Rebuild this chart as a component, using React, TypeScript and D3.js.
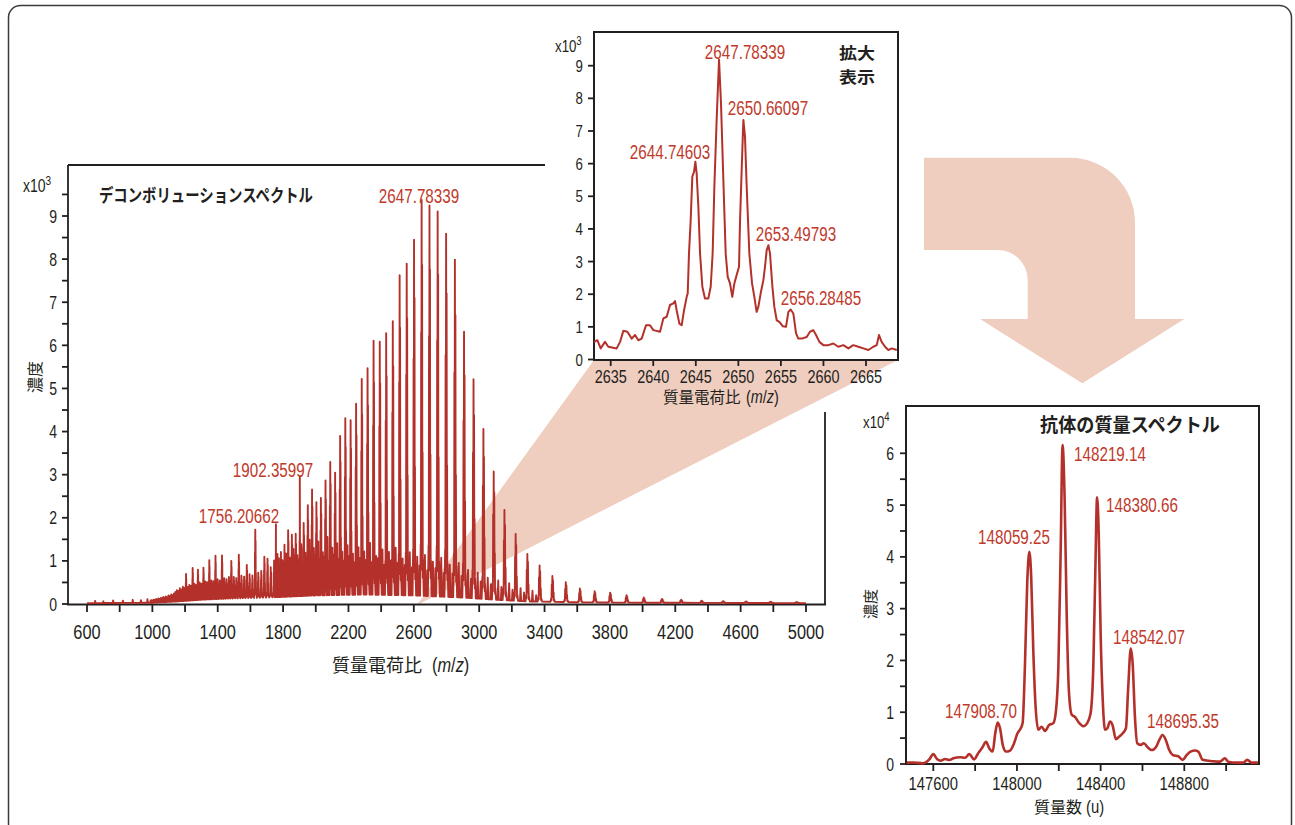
import React, { useEffect } from 'react';
import * as d3 from 'd3';

// ---------- fonts / colours ----------
const NUM = "'Liberation Sans',Arial,sans-serif";
const SX = 0.78; // horizontal squeeze to imitate a condensed face
const CJK = "'Noto Sans CJK JP','Noto Sans',sans-serif";
const RED = '#b3312a';
const LRED = '#c0392b';
const INK = '#231f20';
const PINK = '#efcdbf';

// ---------- antibody (deconvoluted) spectrum: labelled glycoform peaks ----------
const glycoMass = [147908.70, 148059.25, 148219.14, 148380.66, 148542.07, 148695.35];
const glycoHeight = [0.80, 4.10, 6.16, 5.15, 2.23, 0.56]; // x10^4
const glycoLabels = ['147908.70', '148059.25', '148219.14', '148380.66', '148542.07', '148695.35'];

// deconvoluted trace (mass u, intensity x10^4)
const brMass = [147473, 147501, 147549, 147581, 147600, 147619, 147635, 147656, 147677, 147696,
  147728, 147752, 147772, 147795, 147815, 147836, 147852, 147868, 147884, 147896,
  147908, 147919, 147932, 147948, 147967, 147986, 148002, 148018, 148027, 148038,
  148049, 148059, 148068, 148078, 148089, 148102, 148118, 148134, 148153, 148174,
  148186, 148198, 148209, 148218, 148228, 148238, 148249, 148262, 148277, 148298,
  148317, 148336, 148352, 148365, 148375, 148383, 148391, 148400, 148410, 148421,
  148432, 148445, 148457, 148473, 148489, 148505, 148521, 148532, 148544, 148553,
  148564, 148575, 148591, 148607, 148623, 148644, 148665, 148680, 148696, 148712,
  148728, 148747, 148771, 148792, 148811, 148830, 148851, 148867, 148888, 148915,
  148947, 148970, 148994, 149010, 149050, 149082, 149101, 149122, 149152];
const brIntensity = [0.026, 0.03, 0.013, 0.09, 0.19, 0.09, 0.064, 0.097, 0.077, 0.11,
  0.13, 0.12, 0.19, 0.09, 0.21, 0.33, 0.43, 0.30, 0.24, 0.59,
  0.80, 0.69, 0.37, 0.24, 0.26, 0.40, 0.59, 0.69, 0.79, 1.88,
  3.49, 4.10, 3.62, 2.20, 1.11, 0.66, 0.72, 0.64, 0.75, 0.79,
  1.01, 1.88, 4.13, 6.16, 5.10, 2.84, 1.36, 0.95, 0.91, 0.79,
  0.73, 0.79, 0.98, 1.88, 3.81, 5.15, 4.45, 2.52, 1.24, 0.66,
  0.69, 0.82, 0.75, 0.48, 0.53, 0.59, 0.69, 1.49, 2.23, 1.95,
  0.91, 0.40, 0.37, 0.40, 0.33, 0.27, 0.33, 0.46, 0.56, 0.46,
  0.27, 0.17, 0.15, 0.08, 0.17, 0.24, 0.26, 0.24, 0.08, 0.064,
  0.05, 0.045, 0.11, 0.045, 0.026, 0.026, 0.08, 0.026, 0.026];

// ---------- zoomed raw spectrum (m/z, intensity x10^3) ----------
const insetMz = [2633.04, 2633.43, 2633.82, 2634.33, 2634.72, 2635.70, 2636.10, 2636.49, 2636.96, 2637.47,
  2637.86, 2638.25, 2638.64, 2639.15, 2639.62, 2640.01, 2640.80, 2641.19, 2641.58, 2641.97,
  2642.36, 2642.56, 2642.75, 2643.07, 2643.34, 2643.62, 2643.93, 2644.05, 2644.20, 2644.40,
  2644.59, 2644.79, 2644.95, 2645.10, 2645.30, 2645.50, 2645.77, 2646.08, 2646.47, 2646.75,
  2646.98, 2647.18, 2647.45, 2647.73, 2647.96, 2648.24, 2648.51, 2648.75, 2649.02, 2649.29,
  2649.53, 2649.80, 2650.08, 2650.20, 2650.39, 2650.59, 2650.78, 2650.98, 2651.29, 2651.61,
  2651.88, 2652.15, 2652.35, 2652.62, 2652.94, 2653.13, 2653.33, 2653.53, 2653.72, 2654.00,
  2654.23, 2654.51, 2654.82, 2655.21, 2655.60, 2655.88, 2656.15, 2656.46, 2656.78, 2657.05,
  2657.44, 2658.03, 2658.42, 2658.81, 2659.13, 2659.52, 2659.99, 2660.58, 2661.16, 2661.75,
  2662.34, 2662.93, 2663.51, 2664.10, 2664.69, 2665.28, 2665.86, 2666.26, 2666.53, 2666.84,
  2667.24, 2667.63, 2668.02, 2668.61];
const insetIntensity = [0.54, 0.59, 0.34, 0.54, 0.39, 0.34, 0.54, 0.88, 0.85, 0.64,
  0.75, 0.59, 0.64, 1.05, 1.05, 0.90, 0.85, 1.26, 1.31, 1.67,
  1.72, 1.79, 1.51, 1.10, 1.05, 1.51, 1.92, 2.02, 3.25, 4.27,
  5.60, 5.75, 6.06, 5.70, 4.68, 3.25, 2.23, 1.87, 1.87, 2.23,
  3.25, 5.29, 7.34, 9.18, 7.85, 5.50, 3.25, 2.53, 2.33, 1.92,
  2.33, 2.59, 2.84, 4.27, 5.81, 7.34, 6.83, 5.29, 3.25, 2.33,
  1.92, 1.46, 1.61, 2.02, 2.43, 2.84, 3.35, 3.50, 3.25, 2.23,
  1.61, 1.20, 1.15, 1.02, 1.00, 1.46, 1.53, 1.41, 0.80, 0.64,
  0.64, 0.69, 0.85, 0.90, 0.75, 0.54, 0.44, 0.44, 0.49, 0.39,
  0.44, 0.34, 0.44, 0.39, 0.34, 0.29, 0.39, 0.44, 0.75, 0.54,
  0.39, 0.29, 0.34, 0.29];
const insetLabels = ['2647.78339', '2650.66097', '2644.74603', '2653.49793', '2656.28485'];

// ---------- full raw spectrum: charge-state envelope ----------
const Z_MAX = 150; // charge states 150 ... 30
// height of the 148219 glycoform peak for each charge state (x10^3)
const chargeHeight = [
  0.05, 0.06, 0.05, 0.07, 0.06, 0.08, 0.07, 0.09, 0.08, 0.10, // z150-141
  0.09, 0.12, 0.10, 0.13, 0.11, 0.15, 0.13, 0.17, 0.15, 0.19, // z140-131
  0.22, 0.26, 0.24, 0.30, 0.27, 0.33, 0.30, 0.62, 0.32, 0.36, // z130-121
  0.34, 0.75, 0.38, 0.35, 0.70, 0.40, 0.37, 0.74, 0.42, 0.40, // z120-111
  0.91, 0.44, 0.42, 1.01, 0.46, 0.43, 1.01, 0.48, 0.45, 0.50, // z110-101
  0.87, 0.50, 0.47, 1.01, 0.52, 0.50, 0.77, 0.55, 0.52, 1.58, // z100-91
  0.58, 0.62, 0.95, 0.90, 0.70, 0.85, 1.00, 1.04, 1.21, 1.54, // z90-81
  1.43, 1.45, 1.30, 1.69, 2.10, 2.46, 2.16, 2.26, 2.66, 3.09, // z80-71
  2.84, 3.69, 4.10, 4.05, 4.43, 5.00, 5.25, 5.89, 5.87, 6.07, // z70-61
  6.35, 7.42, 7.69, 8.25, 9.18, 9.06, 8.93, 8.42, 7.83, 6.17, // z60-51
  5.08, 3.94, 2.97, 2.09, 1.55, 1.10, 0.84, 0.60, 0.46, 0.32, // z50-41
  0.26, 0.23, 0.17, 0.12, 0.09, 0.07, 0.05, 0.04, 0.035, 0.03, 0.025, // z40-30
];
// minor peaks between charge states (z = 85 ... 45)
const MINOR_Z_MAX = 85;
const minorA = [0.80, 0.90, 0.85, 1.00, 0.90, 1.10, 0.95, 1.20, 1.00, 1.30,
  1.10, 1.25, 1.00, 1.35, 1.10, 1.20, 1.00, 1.15, 0.95, 1.10,
  1.00, 1.20, 0.90, 1.05, 1.00, 1.10, 0.85, 1.00, 0.90, 0.95,
  0.80, 0.90, 0.75, 0.80, 0.65, 0.60, 0.50, 0.45, 0.40, 0.30, 0.25];
const minorB = [0.60, 0.70, 0.75, 0.65, 0.80, 0.70, 0.85, 0.75, 0.90, 0.80,
  0.95, 0.85, 0.90, 0.80, 0.95, 0.85, 0.80, 0.90, 0.75, 0.85,
  0.80, 0.75, 0.85, 0.70, 0.80, 0.75, 0.70, 0.65, 0.70, 0.60,
  0.65, 0.55, 0.55, 0.50, 0.45, 0.40, 0.35, 0.30, 0.25, 0.20, 0.15];
// baseline (valley floor) of the raw spectrum
const baseMz = [600, 1000, 1150, 1300, 1500, 1700, 2000, 2300, 2600, 2900, 3100, 3300, 3600, 4000, 5000];
const baseLevel = [0.02, 0.03, 0.06, 0.10, 0.13, 0.15, 0.20, 0.22, 0.20, 0.15, 0.10, 0.06, 0.04, 0.03, 0.02];
// labelled spikes and small low-m/z bumps
const spikeMz = [1756.20662, 1902.35997, 650, 700, 760, 820, 880, 930, 970];
const spikeHeight = [1.69, 2.78, 0.05, 0.04, 0.06, 0.05, 0.07, 0.06, 0.08];
const mainLabels = ['2647.78339', '1902.35997', '1756.20662'];

// ---------- axis ticks ----------
const mainXTicks = d3.range(600, 5001, 200);
const mainXLabels = d3.range(600, 5001, 400);
const mainYTicks = d3.range(0, 9.51, 0.5);
const mainYLabels = d3.range(0, 10, 1);
const insetXTicks = d3.range(2635, 2666, 5);
const insetYTicks = d3.range(0, 10, 1);
const brXTicks = d3.range(147600, 149001, 200);
const brXLabels = [147600, 148000, 148400, 148800];
const brYTicks = d3.range(0, 6.01, 0.5);
const brYLabels = d3.range(0, 7, 1);

// ---------- layout (pixel positions of annotations) ----------
const mainLabelPos = [{ x: 419, y: 203 }, { x: 273, y: 477 }, { x: 239, y: 523 }];
const insetLabelPos = [{ x: 745, y: 59 }, { x: 768, y: 115 }, { x: 670, y: 159 }, { x: 796, y: 241 }, { x: 821, y: 305 }];
const brLabelPos = [{ x: 981, y: 718 }, { x: 1014, y: 544 }, { x: 1110, y: 461 }, { x: 1142, y: 512 }, { x: 1149, y: 644 }, { x: 1183, y: 728 }];

// ---------- scales ----------
const mx = d3.scaleLinear().domain([600, 5000]).range([87, 806]);
const my = d3.scaleLinear().domain([0, 9]).range([604, 216]);
const ix = d3.scaleLinear().domain([2635, 2665]).range([610.7, 866]);
const iy = d3.scaleLinear().domain([0, 9]).range([359.5, 65.7]);
const bx = d3.scaleLinear().domain([147600, 148800]).range([933.3, 1184.3]);
const by = d3.scaleLinear().domain([0, 6]).range([764, 453.3]);

const PROTON = 1.00728;
const M0 = glycoMass[2];
const mzOf = (M: number, z: number) => (M + z * PROTON) / z;

function buildMainPath(): string {
  const base = d3.scaleLinear().domain(baseMz).range(baseLevel).clamp(true);
  const rel = glycoHeight.map((h) => h / glycoHeight[2]);
  const pts: [number, number][] = [[600, base(600)], [5000, base(5000)]];
  const addPeak = (m: number, h: number, w: number) => {
    pts.push([m - w, base(m - w)], [m, base(m) + h], [m + w, base(m + w)]);
  };
  chargeHeight.forEach((H, i) => {
    const z = Z_MAX - i;
    const gap = mzOf(M0, z - 1) - mzOf(M0, z);
    const w = Math.min(4.5, gap * 0.3);
    const tops = glycoMass.map((M, g) => [mzOf(M, z), H * rel[g]] as [number, number]);
    pts.push([tops[0][0] - w, base(tops[0][0] - w)]);
    tops.forEach(([m, h], g) => {
      pts.push([m, base(m) + h]);
      if (g < tops.length - 1) {
        const m2 = (m + tops[g + 1][0]) / 2;
        pts.push([m2, base(m2) + 0.5 * Math.min(h, tops[g + 1][1])]);
      }
    });
    const last = tops[tops.length - 1][0];
    pts.push([last + w, base(last + w)]);
  });
  minorA.forEach((hA, j) => {
    const z = MINOR_Z_MAX - j;
    const m0 = mzOf(M0, z);
    const gap = mzOf(M0, z - 1) - m0;
    addPeak(m0 + 0.42 * gap, hA, 3.5);
    addPeak(m0 + 0.72 * gap, minorB[j], 3.5);
  });
  spikeMz.forEach((m, k) => addPeak(m, spikeHeight[k], 2.5));
  const clean = pts.filter(([m]) => m >= 600 && m <= 5000).sort((a, b) => a[0] - b[0]);
  return d3.line<[number, number]>().x((d) => mx(d[0])).y((d) => my(d[1]))(clean) || '';
}

const insetPath = d3.line<number>().x((_, i) => ix(insetMz[i])).y((d) => iy(d))(insetIntensity) || '';
const brPath = d3.line<number>().curve(d3.curveMonotoneX).x((_, i) => bx(brMass[i])).y((d) => by(d))(brIntensity) || '';

// condensed-looking number text
const NText = ({ x, y, size, anchor = 'start', fill = INK, children }: any) => (
  <text transform={`translate(${x},${y}) scale(${SX},1)`} textAnchor={anchor} fontFamily={NUM} fontSize={size} fill={fill}>
    {children}
  </text>
);

const Exp = ({ x, y, p, size }: { x: number; y: number; p: string; size: number }) => (
  <NText x={x} y={y} size={size}>
    x10<tspan dy={-7} fontSize={size * 0.72}>{p}</tspan>
  </NText>
);

export default function App() {
  useEffect(() => {
    document.body.style.margin = '0';
    document.body.style.overflow = 'hidden';
  }, []);
  const mainPath = buildMainPath();
  return (
    <svg width={1295} height={825} style={{ position: 'absolute', left: 0, top: 0, background: '#fff' }}>
      {/* outer frame */}
      <rect x={8.5} y={5.5} width={1283} height={830} rx={12} fill="#fff" stroke="#3b3b3b" strokeWidth={1.5} />

      {/* big bent arrow */}
      <path d="M924,157.7 H1070 A65,65 0 0 1 1135,222.7 V319 H1184.3 L1082.3,383.3 L980,319 H1027.7 V280 A30,30 0 0 0 997.7,250 H924 Z" fill={PINK} />

      {/* zoom wedge */}
      <polygon points="594,360 898,360 417,605" fill={PINK} />

      {/* ---------- main chart ---------- */}
      <g stroke={INK} strokeWidth={1.8} fill="none">
        <line x1={68} y1={165} x2={545} y2={165} />
        <line x1={68} y1={165} x2={68} y2={605} />
        <line x1={67} y1={604.5} x2={826} y2={604.5} />
        <line x1={825} y1={412} x2={825} y2={605} />
        {mainYTicks.map((v) => <line key={'my' + v} x1={62} x2={68} y1={my(v)} y2={my(v)} />)}
        {mainXTicks.map((v) => <line key={'mx' + v} x1={mx(v)} x2={mx(v)} y1={604} y2={612} />)}
      </g>
      {mainYLabels.map((v) => (
        <NText key={'myl' + v} x={57} y={my(v) + 6.5} size={18} anchor="end">{v}</NText>
      ))}
      {mainXLabels.map((v) => (
        <NText key={'mxl' + v} x={mx(v)} y={639} size={21} anchor="middle">{v}</NText>
      ))}
      <Exp x={23} y={192} p="3" size={18} />
      <text transform="translate(41,377) rotate(-90)" textAnchor="middle" fontFamily={CJK} fontSize={16} fill={INK}>濃度</text>
      <text x={332} y={672} fontFamily={CJK} fontSize={18} fill={INK}>質量電荷比</text>
      <NText x={432} y={672} size={21}>(<tspan fontStyle="italic">m</tspan>/<tspan fontStyle="italic">z</tspan>)</NText>
      <text x={99} y={202} fontFamily={CJK} fontWeight="bold" fontSize={18} fill={INK} textLength={214} lengthAdjust="spacingAndGlyphs">デコンボリューションスペクトル</text>
      <path d={mainPath} fill="none" stroke={RED} strokeWidth={1.9} strokeLinejoin="round" />
      {mainLabels.map((t, i) => (
        <NText key={t} x={mainLabelPos[i].x} y={mainLabelPos[i].y} size={19.5} anchor="middle" fill={LRED}>{t}</NText>
      ))}

      {/* ---------- inset (zoom) ---------- */}
      <rect x={594} y={32} width={304} height={328} fill="#fff" stroke={INK} strokeWidth={2} />
      <g stroke={INK} strokeWidth={1.8}>
        {insetYTicks.map((v) => <line key={'iy' + v} x1={588} x2={594} y1={iy(v)} y2={iy(v)} />)}
        {insetXTicks.map((v) => <line key={'ix' + v} x1={ix(v)} x2={ix(v)} y1={360} y2={366} />)}
      </g>
      {insetYTicks.map((v) => (
        <NText key={'iyl' + v} x={583} y={iy(v) + 6} size={17} anchor="end">{v}</NText>
      ))}
      {insetXTicks.map((v) => (
        <NText key={'ixl' + v} x={ix(v)} y={383} size={18.5} anchor="middle">{v}</NText>
      ))}
      <Exp x={555} y={52} p="3" size={17} />
      <text x={663} y={403} fontFamily={CJK} fontSize={15.5} fill={INK}>質量電荷比</text>
      <NText x={746} y={403} size={18.5}>(<tspan fontStyle="italic">m</tspan>/<tspan fontStyle="italic">z</tspan>)</NText>
      <text x={839} y={59} fontFamily={CJK} fontWeight="bold" fontSize={16} fill={INK} textLength={36} lengthAdjust="spacingAndGlyphs">拡大</text>
      <text x={839} y={83} fontFamily={CJK} fontWeight="bold" fontSize={16} fill={INK} textLength={36} lengthAdjust="spacingAndGlyphs">表示</text>
      <path d={insetPath} fill="none" stroke={RED} strokeWidth={2} strokeLinejoin="round" />
      {insetLabels.map((t, i) => (
        <NText key={t} x={insetLabelPos[i].x} y={insetLabelPos[i].y} size={19.5} anchor="middle" fill={LRED}>{t}</NText>
      ))}

      {/* ---------- deconvoluted antibody spectrum ---------- */}
      <rect x={906} y={406} width={353} height={358} fill="#fff" stroke={INK} strokeWidth={2} />
      <g stroke={INK} strokeWidth={1.8}>
        {brYTicks.map((v) => <line key={'by' + v} x1={900} x2={906} y1={by(v)} y2={by(v)} />)}
        {brXTicks.map((v) => <line key={'bx' + v} x1={bx(v)} x2={bx(v)} y1={764} y2={771} />)}
      </g>
      {brYLabels.map((v) => (
        <NText key={'byl' + v} x={894} y={by(v) + 6.5} size={18} anchor="end">{v}</NText>
      ))}
      {brXLabels.map((v) => (
        <NText key={'bxl' + v} x={bx(v)} y={790} size={19} anchor="middle">{v}</NText>
      ))}
      <Exp x={863} y={428} p="4" size={17} />
      <text transform="translate(876,604) rotate(-90)" textAnchor="middle" fontFamily={CJK} fontSize={15} fill={INK}>濃度</text>
      <text x={1034} y={813} fontFamily={CJK} fontSize={16} fill={INK}>質量数</text>
      <NText x={1086} y={813} size={19}>(u)</NText>
      <text x={1040} y={432} fontFamily={CJK} fontWeight="bold" fontSize={19} fill={INK} textLength={180} lengthAdjust="spacingAndGlyphs">抗体の質量スペクトル</text>
      <path d={brPath} fill="none" stroke={RED} strokeWidth={2.6} strokeLinejoin="round" />
      {glycoLabels.map((t, i) => (
        <NText key={t} x={brLabelPos[i].x} y={brLabelPos[i].y} size={19.5} anchor="middle" fill={LRED}>{t}</NText>
      ))}
    </svg>
  );
}
